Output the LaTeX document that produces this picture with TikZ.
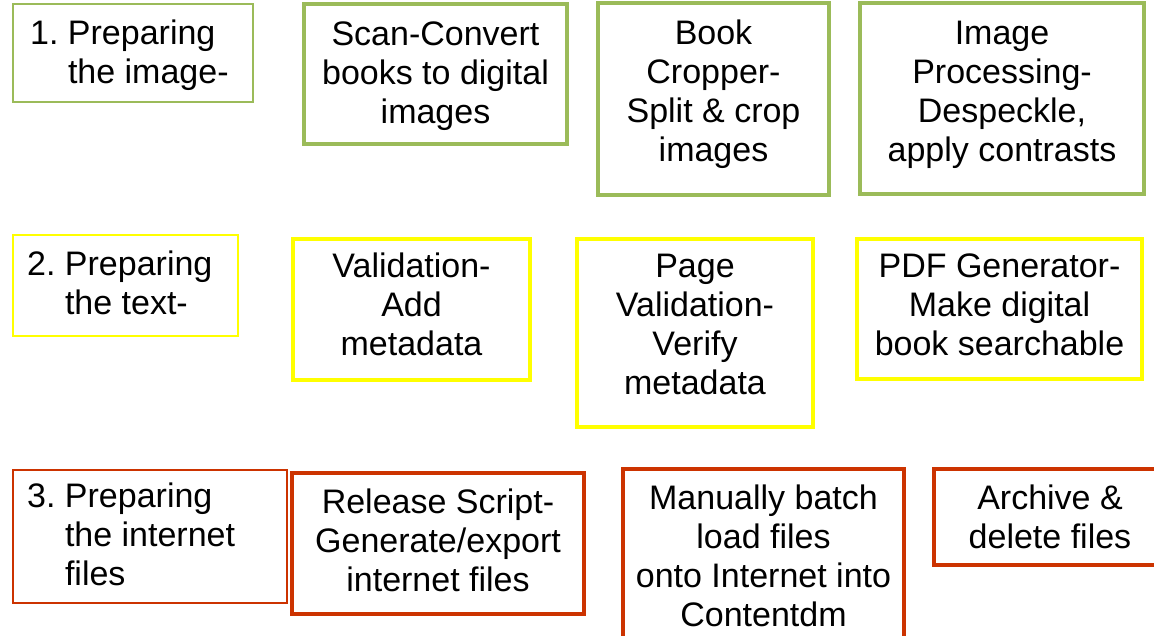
\documentclass[tikz,border=0pt]{standalone}
\usepackage{fontspec}
\setmainfont{Liberation Sans}
\usetikzlibrary{fit}
\definecolor{grn}{HTML}{9BBB59}
\definecolor{ylw}{HTML}{FFFF00}
\definecolor{rd}{HTML}{CC3300}
\begin{document}
\begin{tikzpicture}[x=1pt,y=-1pt,
  frame/.style={draw, rectangle, inner sep=0pt, outer sep=0pt},
  lblframe/.style={frame, line width=2pt},
  stepbox/.style={frame, line width=4pt},
  txt/.style={inner sep=0pt, align=center, anchor=north, font=\fontsize{34}{39}\selectfont},
  lbltxt/.style={inner sep=0pt, align=left, anchor=north west, font=\fontsize{34}{39}\selectfont}]
\useasboundingbox (0,0) rectangle (1154,635);
\clip (0,0) rectangle (1154,635);
% Row 1
\node[lblframe, draw=grn, fit={(13,4) (253,102)}] (l1) {};
\node[stepbox, draw=grn, fit={(304,4) (567,144)}] (scan) {};
\node[stepbox, draw=grn, fit={(598,3) (829,195)}] (book) {};
\node[stepbox, draw=grn, fit={(860,3) (1144,194)}] (imgp) {};
\node[lbltxt] (l1t) at (30,17) {\strut 1.\ Preparing\\\hphantom{1.\ }the image-};
\node[txt] (scant) at (435.5,18) {\strut Scan-Convert\\books to digital\\images};
\node[txt] (bookt) at (713.5,17) {\strut Book\\Cropper-\\Split \& crop\\images};
\node[txt] (imgpt) at (1002,17) {\strut Image\\Processing-\\Despeckle,\\apply contrasts};
% Row 2
\node[lblframe, draw=ylw, fit={(13,235) (238,336)}] (l2) {};
\node[stepbox, draw=ylw, fit={(293,239) (530,380)}] (valid) {};
\node[stepbox, draw=ylw, fit={(577,239) (813,427)}] (page) {};
\node[stepbox, draw=ylw, fit={(857,239) (1142,379)}] (pdf) {};
\node[lbltxt] (l2t) at (27,248) {\strut 2.\ Preparing\\\hphantom{2.\ }the text-};
\node[txt] (validt) at (411.5,250) {\strut Validation-\\Add\\metadata};
\node[txt] (paget) at (695,250) {\strut Page\\Validation-\\Verify\\metadata};
\node[txt] (pdft) at (999.5,250) {\strut PDF Generator-\\Make digital\\book searchable};
% Row 3
\node[lblframe, draw=rd, fit={(13,470) (287,603)}] (l3) {};
\node[stepbox, draw=rd, fit={(292,473) (584,614)}] (rel) {};
\node[stepbox, draw=rd, fit={(623,469) (904,665)}] (man) {};
\node[stepbox, draw=rd, fit={(934,469) (1170,565)}] (arch) {};
\node[lbltxt] (l3t) at (27,480) {\strut 3.\ Preparing\\\hphantom{3.\ }the internet\\\hphantom{3.\ }files};
\node[txt] (relt) at (438,486) {\strut Release Script-\\Generate/export\\internet files};
\node[txt] (mant) at (763.5,482) {\strut Manually batch\\load files\\onto Internet into\\Contentdm};
\node[txt] (archt) at (1050,482) {\strut Archive \&\\delete files};
\end{tikzpicture}
\end{document}
